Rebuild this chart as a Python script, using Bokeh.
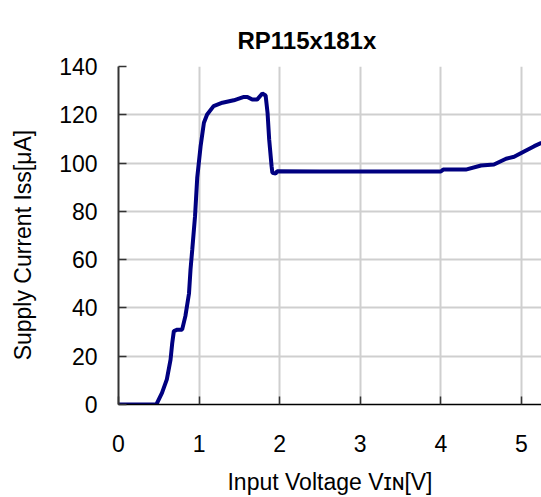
import numpy as np
from bokeh.plotting import figure
from bokeh.models import Range1d, FixedTicker, Grid, Title
from bokeh.embed import file_html
from bokeh.resources import INLINE

# ---- data ----
vin = [0.0, 0.47, 0.54, 0.60, 0.646, 0.667, 0.687, 0.73, 0.79, 0.83, 0.875, 0.894,
       0.915, 0.95, 0.977, 1.019, 1.06, 1.10, 1.18, 1.29, 1.43, 1.557, 1.60, 1.66,
       1.72, 1.785, 1.826, 1.85, 1.87, 1.90, 1.91, 1.95, 1.97, 2.5, 3.0, 3.5, 4.0,
       4.03, 4.31, 4.50, 4.66, 4.81, 4.91, 5.04, 5.16, 5.25]
iss = [0, 0, 4.8, 10.4, 18.6, 25.5, 30.4, 31, 31, 36.6, 46, 56,
       64, 78, 93.9, 107, 116.7, 120.1, 123.6, 125, 126, 127.4, 127.4, 126.3,
       126.3, 128.8, 128, 120.8, 109.8, 98.7, 96, 95.7, 96.6, 96.5, 96.5, 96.5, 96.5,
       97.3, 97.3, 99, 99.4, 101.8, 102.6, 104.9, 107, 108.4]
x_ticks = [0, 1, 2, 3, 4, 5]
y_ticks = [0, 20, 40, 60, 80, 100, 120, 140]

title_text = "RP115x181x"
x_label = "Input Voltage Vɪɴ[V]"
y_label = "Supply Current Iss[μA]\u00a0\u00a0\u00a0"

FONT = "Liberation Sans"
FS = "23px"

p = figure(width=541, height=497, output_backend="svg", toolbar_location=None,
           title=None,
           x_range=Range1d(0, 5.25), y_range=Range1d(0, 140),
           min_border_left=118, min_border_right=0, min_border_top=66,
           min_border_bottom=92, outline_line_color=None)

# spacer between frame and title, then the title itself (further out)
p.add_layout(Title(text="\u00a0", text_font=FONT, text_font_size="6px",
                   standoff=0), "above")
p.add_layout(Title(text=title_text, text_font=FONT, text_font_size="24px",
                   text_font_style="bold", text_color="#000000", align="left",
                   offset=119, standoff=10), "above")

p.line(vin, iss, line_color="#000080", line_width=4)

p.xaxis.ticker = FixedTicker(ticks=x_ticks)
p.yaxis.ticker = FixedTicker(ticks=y_ticks)
for ax in (p.xaxis, p.yaxis):
    ax.major_label_text_font = FONT
    ax.major_label_text_font_size = FS
    ax.major_label_text_color = "#000000"
    ax.axis_label_text_font = FONT
    ax.axis_label_text_font_size = FS
    ax.axis_label_text_font_style = "normal"
    ax.axis_label_text_color = "#000000"
    ax.major_tick_in = 8
    ax.major_tick_out = 0
    ax.minor_tick_line_color = None
p.xaxis.axis_label = x_label
p.yaxis.axis_label = y_label
p.yaxis.axis_line_color = "#333333"
p.yaxis.axis_line_width = 2
p.yaxis.major_tick_line_color = "#333333"
p.yaxis.major_tick_line_width = 1.5
p.yaxis.major_label_standoff = 21
p.yaxis.axis_label_standoff = 20
p.xaxis.axis_line_color = "#000000"
p.xaxis.axis_line_width = 1.5
p.xaxis.major_tick_line_color = "#333333"
p.xaxis.major_tick_line_width = 1.5
p.xaxis.major_label_standoff = 30
p.xaxis.axis_label_standoff = 14

p.xgrid.ticker = FixedTicker(ticks=x_ticks)
p.ygrid.ticker = FixedTicker(ticks=y_ticks[:-1])
p.grid.grid_line_color = "#cfcfcf"
p.grid.grid_line_width = 2
p.add_layout(Grid(dimension=1, ticker=FixedTicker(ticks=y_ticks[-1:]),
                  grid_line_color="#9a9a9a", grid_line_width=2))

open("out.html", "w").write(file_html(p, INLINE))
